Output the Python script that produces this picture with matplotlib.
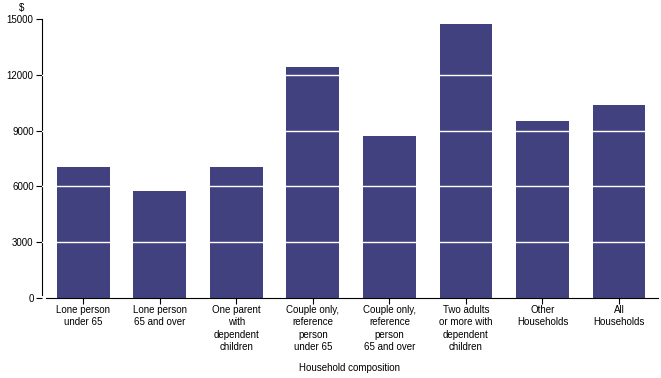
import matplotlib
matplotlib.use("Agg")
import matplotlib.pyplot as plt

categories = ["Lone person\nunder 65", "Lone person\n65 and over", "One parent\nwith\ndependent\nchildren",
              "Couple only,\nreference\nperson\nunder 65", "Couple only,\nreference\nperson\n65 and over",
              "Two adults\nor more with\ndependent\nchildren", "Other\nHouseholds", "All\nHouseholds"]
values = [7050, 5750, 7050, 12420, 8710, 14730, 9520, 10380]
yticks = [0, 3000, 6000, 9000, 12000, 15000]

plt.rcParams['font.family'] = ['Liberation Sans', 'DejaVu Sans']
fig = plt.figure(figsize=(6.61, 3.78), dpi=100)
ax = fig.add_axes([42/661, 80/378, 616/661, 279/378])
x = list(range(len(categories)))
ax.bar(x, values, width=0.69, color='#41417f', zorder=2)
ax.set_xlim(-0.54, 7.51)
ax.set_ylim(0, 15000)
ax.set_yticks(yticks)
ax.set_yticklabels([str(v) for v in yticks], fontsize=7)
ax.set_xticks(x)
ax.set_xticklabels(categories, fontsize=7, linespacing=1.3)
for v in yticks[1:-1]:
    ax.axhline(v, color='white', lw=1, zorder=3)
for s in ['top', 'right']:
    ax.spines[s].set_visible(False)
ax.spines['left'].set_bounds(150, 15000)
ax.spines['bottom'].set_bounds(-0.49, 7.51)
ax.tick_params(axis='both', length=4, width=0.8, colors='black')
ax.tick_params(axis='x', pad=1)
ax.tick_params(axis='y', pad=2)
fig.text(22/661, 1 - 8/378, "$", fontsize=7, ha='center', va='center')
fig.text(350/661, 1 - 368/378, "Household composition", fontsize=7, ha='center', va='center')
fig.savefig("out.png", dpi=100)
